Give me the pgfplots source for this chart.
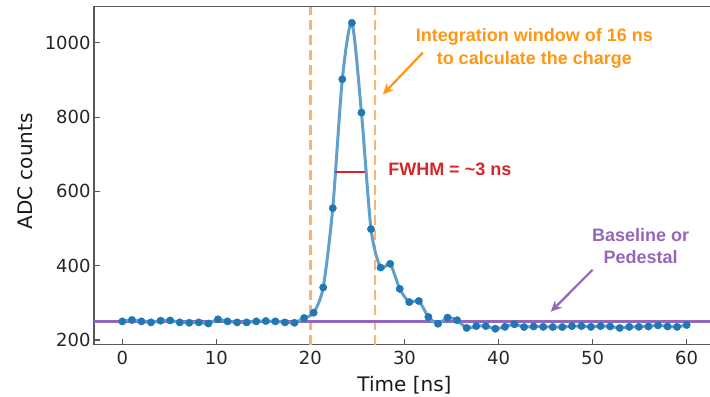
\documentclass[border=0pt]{standalone}
\usepackage{fontspec}
\setmainfont{DejaVu Sans}
\newfontfamily\annfont{Liberation Sans}
\usepackage{pgfplots}
\usepackage{pgfplotstable}
\pgfplotsset{compat=1.18}
\usetikzlibrary{arrows.meta}
\definecolor{cBlue}{RGB}{31,119,180}
\definecolor{cLine}{RGB}{98,160,204}
\definecolor{cPurple}{RGB}{148,103,189}
\definecolor{cOrangeDash}{RGB}{255,178,110}
\definecolor{cOrange}{RGB}{255,150,20}
\definecolor{cRed}{RGB}{214,39,40}
\pgfplotstableread{
t v
0 250.0
1.017 253.7
2.034 250.0
3.051 247.3
4.068 251.8
5.085 252.5
6.102 247.3
7.119 246.3
8.136 247.3
9.153 244.2
10.169 255.5
11.186 250.0
12.203 247.3
13.220 247.3
14.237 250.0
15.254 251.0
16.271 250.0
17.288 247.3
18.305 246.3
19.322 259.1
20.339 273.4
21.356 341.3
22.373 554.9
23.390 902.0
24.407 1053.9
25.424 812.1
26.441 498.5
27.458 395
28.475 405
29.492 337.6
30.508 301.9
31.525 304.8
32.542 261.9
33.559 243.7
34.576 260.1
35.593 253.2
36.610 232.3
37.627 237.3
38.644 237.3
39.661 230.3
40.678 235.3
41.695 242.2
42.712 234.8
43.729 236.3
44.746 235.3
45.763 234.8
46.780 234.8
47.797 237.3
48.814 237.3
49.831 235.3
50.847 237.3
51.864 236.3
52.881 232.3
53.898 235.3
54.915 235.3
55.932 236.3
56.949 239.3
57.966 236.3
58.983 235.3
60.000 240.3
}\datatable
\begin{document}
\begin{tikzpicture}
\begin{axis}[
  scale only axis, width=620.8pt, height=338pt,
  xmin=-3, xmax=63, ymin=187, ymax=1097,
  xtick={0,10,...,60}, ytick={200,400,...,1000},
  tick align=inside, tick pos=left,
  major tick length=6pt,
  axis line style={draw=black!65, line width=1.3pt},
  every tick/.style={black!65, line width=1.1pt},
  ticklabel style={font=\fontsize{18}{20}\selectfont, text=black!85},
  xticklabel style={yshift=-3pt},
  /pgf/number format/assume math mode=true,
  /pgf/number format/1000 sep={},
  xlabel={Time [ns]}, ylabel={ADC counts},
  label style={font=\fontsize{20}{24}\selectfont, text=black!90},
  xlabel style={at={(axis description cs:0.5,-0.121)}, anchor=center},
  ylabel style={at={(axis description cs:-0.111,0.513)}, anchor=center},
]
\addplot[cOrangeDash, line width=2.5pt, dash pattern=on 10pt off 5pt] coordinates {(20,187) (20,1097)};
\addplot[cOrangeDash, line width=2.5pt, dash pattern=on 10pt off 5pt] coordinates {(26.85,187) (26.85,1097)};
\addplot[cPurple, line width=2.5pt] coordinates {(-3,250) (63,250)};
\addplot[cLine, line width=3pt, smooth, tension=0.45, no marks] table[x=t, y=v] {\datatable};
\addplot[only marks, mark=*, mark size=3.7pt, mark options={fill=cBlue, draw=cBlue}] table[x=t, y=v] {\datatable};
\addplot[cRed, line width=2.5pt] coordinates {(22.6,652) (25.85,652)};
\node[font=\annfont\bfseries\fontsize{18}{23}\selectfont, text=cOrange, align=center] at (axis cs:43.8,986) {Integration window of 16 ns\\to calculate the charge};
\draw[cOrange, line width=2.2pt, -{Stealth[length=11pt,width=10pt]}] (axis cs:31.96,974) -- (axis cs:27.7,861);
\node[font=\annfont\bfseries\fontsize{18}{23}\selectfont, text=cRed, anchor=west] at (axis cs:27.9,660) {FWHM = \textasciitilde3 ns};
\node[font=\annfont\bfseries\fontsize{18}{22.5}\selectfont, text=cPurple, align=center] at (axis cs:55.1,453) {Baseline or\\Pedestal};
\draw[cPurple, line width=2.2pt, -{Stealth[length=11pt,width=10pt]}] (axis cs:50.0,389) -- (axis cs:45.55,276);
\end{axis}
\pgfresetboundingbox
\path[use as bounding box] ([xshift=-94.1pt,yshift=-51.7pt]current axis.south west) rectangle ([xshift=615.9pt,yshift=6.8pt]current axis.north west);
\end{tikzpicture}
\end{document}
